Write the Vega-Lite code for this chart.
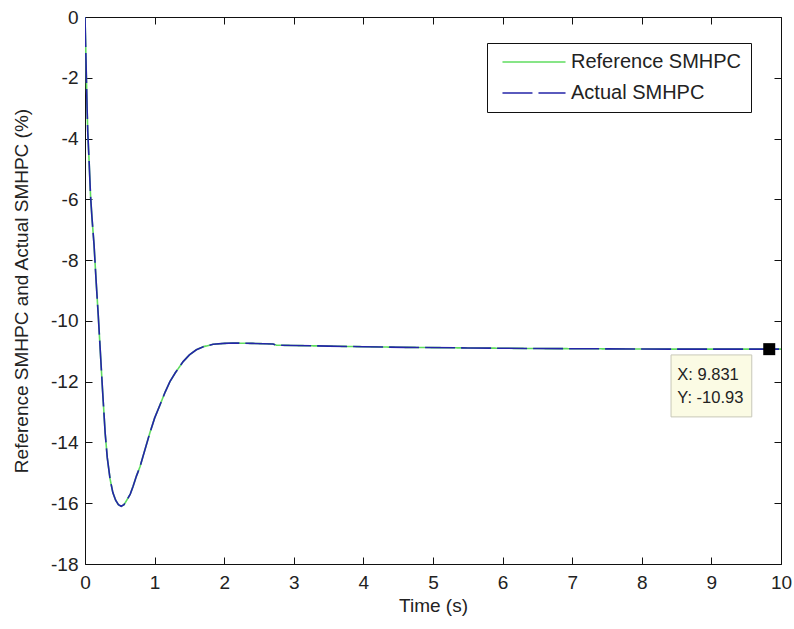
{
  "$schema": "https://vega.github.io/schema/vega-lite/v6.json",
  "width": 696,
  "height": 547,
  "autosize": {"type": "none"},
  "padding": {"left": 85, "top": 17, "right": 13, "bottom": 65},
  "background": "white",
  "config": {
    "view": {"stroke": null},
    "font": "Liberation Sans",
    "axis": {
      "domainColor": "#111111",
      "tickColor": "#111111",
      "labelColor": "#222222",
      "titleColor": "#222222",
      "labelFont": "Liberation Sans",
      "titleFont": "Liberation Sans",
      "labelFontSize": 19,
      "titleFontSize": 19,
      "titleFontWeight": "normal",
      "tickSize": -7,
      "grid": false,
      "labelFlush": false,
      "labelOverlap": false
    },
    "legend": {
      "orient": "none",
      "legendX": 402,
      "legendY": 26,
      "strokeColor": "#111111",
      "fillColor": "white",
      "padding": 9,
      "labelFont": "Liberation Sans",
      "labelFontSize": 20,
      "labelColor": "#222222",
      "labelLimit": 400,
      "rowPadding": 11,
      "symbolType": "M-5,0H5",
      "symbolSize": 159,
      "symbolStrokeWidth": 1.5,
      "symbolFillColor": "transparent",
      "symbolOffset": 28,
      "labelOffset": 27
    }
  },
  "datasets": {
    "curve": [
      {"t": 0, "v": 0},
      {"t": 0.005, "v": -0.5},
      {"t": 0.01, "v": -1.0},
      {"t": 0.02, "v": -2.0},
      {"t": 0.03, "v": -3.0},
      {"t": 0.04, "v": -3.8},
      {"t": 0.06, "v": -4.8},
      {"t": 0.08, "v": -5.9},
      {"t": 0.10, "v": -6.6},
      {"t": 0.13, "v": -7.5},
      {"t": 0.16, "v": -8.7},
      {"t": 0.19, "v": -9.8},
      {"t": 0.22, "v": -11.0},
      {"t": 0.25, "v": -12.2},
      {"t": 0.29, "v": -13.7},
      {"t": 0.32, "v": -14.5},
      {"t": 0.36, "v": -15.2},
      {"t": 0.40, "v": -15.65},
      {"t": 0.44, "v": -15.9},
      {"t": 0.48, "v": -16.05},
      {"t": 0.52, "v": -16.1},
      {"t": 0.56, "v": -16.05},
      {"t": 0.60, "v": -15.9},
      {"t": 0.65, "v": -15.7},
      {"t": 0.69, "v": -15.45},
      {"t": 0.74, "v": -15.1},
      {"t": 0.79, "v": -14.8},
      {"t": 0.86, "v": -14.25},
      {"t": 0.93, "v": -13.7},
      {"t": 1.00, "v": -13.2},
      {"t": 1.08, "v": -12.75},
      {"t": 1.15, "v": -12.35},
      {"t": 1.22, "v": -12.0},
      {"t": 1.30, "v": -11.7},
      {"t": 1.41, "v": -11.34},
      {"t": 1.50, "v": -11.12},
      {"t": 1.60, "v": -10.95},
      {"t": 1.70, "v": -10.85},
      {"t": 1.84, "v": -10.77},
      {"t": 2.0, "v": -10.74},
      {"t": 2.13, "v": -10.73},
      {"t": 2.4, "v": -10.74},
      {"t": 2.7, "v": -10.76},
      {"t": 2.75, "v": -10.80},
      {"t": 3.0, "v": -10.81},
      {"t": 3.5, "v": -10.83},
      {"t": 4.0, "v": -10.85},
      {"t": 4.6, "v": -10.87},
      {"t": 5.5, "v": -10.89},
      {"t": 6.5, "v": -10.91},
      {"t": 7.5, "v": -10.92},
      {"t": 8.5, "v": -10.93},
      {"t": 9.831, "v": -10.93},
      {"t": 10, "v": -10.93}
    ],
    "tipbox": [{"x1": 8.42, "x2": 9.58, "y1": -11.12, "y2": -13.16}],
    "tippoint": [{"t": 9.831, "v": -10.93}],
    "tiptext": [
      {"t": 8.51, "v": -11.78, "label": "X: 9.831"},
      {"t": 8.51, "v": -12.53, "label": "Y: -10.93"}
    ]
  },
  "resolve": {"axis": {"x": "independent", "y": "independent"}},
  "layer": [
    {
      "data": {"name": "curve"},
      "mark": {"type": "line", "strokeWidth": 1.6, "clip": true},
      "encoding": {
        "x": {"field": "t", "type": "quantitative",
          "scale": {"domain": [0, 10], "nice": false, "zero": false},
          "axis": {"orient": "bottom", "title": "Time (s)", "values": [0,1,2,3,4,5,6,7,8,9,10], "labelPadding": 16, "titlePadding": 4, "labelExpr": "toString(datum.value)"}},
        "y": {"field": "v", "type": "quantitative",
          "scale": {"domain": [-18, 0], "nice": false, "zero": false},
          "axis": {"orient": "left", "title": "Reference SMHPC and Actual SMHPC (%)", "values": [-18,-16,-14,-12,-10,-8,-6,-4,-2,0], "labelPadding": 14, "titlePadding": 19, "labelExpr": "toString(datum.value)"}},
        "color": {"datum": "Reference SMHPC",
          "scale": {"domain": ["Reference SMHPC", "Actual SMHPC"], "range": ["#5fdc5f", "#2424a8"]},
          "legend": {"title": null}},
        "strokeDash": {"datum": "Reference SMHPC",
          "scale": {"domain": ["Reference SMHPC", "Actual SMHPC"], "range": [[1, 0], [30, 6]]},
          "legend": {"title": null}}
      }
    },
    {
      "data": {"name": "curve"},
      "mark": {"type": "line", "strokeWidth": 1.6, "clip": true},
      "encoding": {
        "x": {"field": "t", "type": "quantitative",
          "axis": {"orient": "top", "title": null, "labels": false, "values": [0,1,2,3,4,5,6,7,8,9,10]}},
        "y": {"field": "v", "type": "quantitative",
          "axis": {"orient": "right", "title": null, "labels": false, "values": [-18,-16,-14,-12,-10,-8,-6,-4,-2,0]}},
        "color": {"datum": "Actual SMHPC"},
        "strokeDash": {"datum": "Actual SMHPC"}
      }
    },
    {
      "data": {"name": "tipbox"},
      "mark": {"type": "rect", "fill": "#fbfbe4", "stroke": "#c8c8b8", "strokeWidth": 1},
      "encoding": {
        "x": {"field": "x1", "type": "quantitative", "axis": null},
        "x2": {"field": "x2"},
        "y": {"field": "y1", "type": "quantitative", "axis": null},
        "y2": {"field": "y2"}
      }
    },
    {
      "data": {"name": "tippoint"},
      "mark": {"type": "point", "shape": "square", "filled": true, "color": "black", "size": 144, "opacity": 1},
      "encoding": {
        "x": {"field": "t", "type": "quantitative", "axis": null},
        "y": {"field": "v", "type": "quantitative", "axis": null}
      }
    },
    {
      "data": {"name": "tiptext"},
      "mark": {"type": "text", "align": "left", "baseline": "middle", "fontSize": 16.5, "font": "Liberation Sans", "color": "#222222"},
      "encoding": {
        "x": {"field": "t", "type": "quantitative", "axis": null},
        "y": {"field": "v", "type": "quantitative", "axis": null},
        "text": {"field": "label"}
      }
    }
  ]
}
